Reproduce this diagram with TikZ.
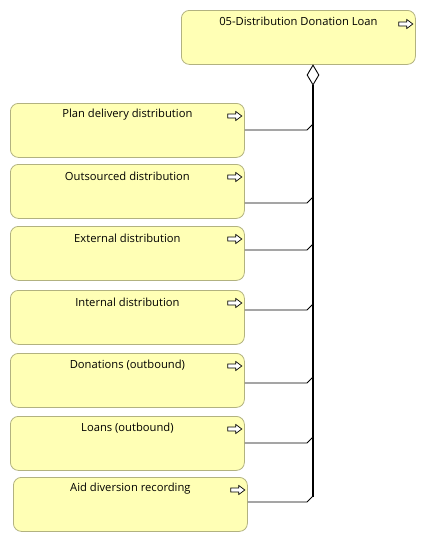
\documentclass[tikz,border=0pt]{standalone}
\usepackage{fontspec}
\setmainfont{Open Sans}
\usetikzlibrary{shapes.geometric}
\definecolor{boxfill}{RGB}{255,255,181}
\definecolor{boxline}{RGB}{178,178,128}
\tikzset{
  funcbox/.style={draw=boxline, fill=boxfill, rounded corners=8pt, line width=0.8pt,
    minimum width=234pt, minimum height=54pt, anchor=north west, inner sep=0pt},
  lbl/.style={font=\fontsize{11.2}{13}\selectfont, inner sep=0pt, anchor=center},
  conn/.style={draw=black, line width=0.9pt},
  bus/.style={draw=black, line width=2pt},
  icon/.style={draw=black, fill=white, line width=0.7pt, line join=miter},
}
\newcommand{\procicon}[1]{%
  \draw[icon] ($(#1)+(-14,-2)$) -- ($(#1)+(-6,-2)$) -- ($(#1)+(-6,-4.5)$) -- ($(#1)+(0,0)$)
    -- ($(#1)+(-6,4.5)$) -- ($(#1)+(-6,2)$) -- ($(#1)+(-14,2)$) -- cycle;}
\usetikzlibrary{calc}
\begin{document}
\begin{tikzpicture}[x=1pt,y=-1pt]
\useasboundingbox (0,0) rectangle (426,542);
% top box
\node[funcbox] (top) at (181,10) {};
\node[lbl] (toplbl) at ($(top.north)+(0,11)$) {05-Distribution Donation Loan};
\coordinate (ti) at ($(top.north east)+(-3,14)$);
\procicon{ti}
% diamond
\node[diamond, draw=black, fill=white, line width=0.9pt, minimum width=12pt, minimum height=20pt, inner sep=0pt] (dia) at (313,75) {};
% left boxes
\node[funcbox] (b1) at (10,103) {};
\node[funcbox] (b2) at (10,164) {};
\node[funcbox] (b3) at (10,226) {};
\node[funcbox] (b4) at (10,290) {};
\node[funcbox] (b5) at (10,353) {};
\node[funcbox] (b6) at (10,416) {};
\node[funcbox] (b7) at (13,477) {};
\foreach \b/\t in {b1/Plan delivery distribution, b2/Outsourced distribution, b3/External distribution, b4/Internal distribution, b5/Donations (outbound), b6/Loans (outbound), b7/Aid diversion recording}{
  \node[lbl] (\b lbl) at ($(\b.north)+(0,12)$) {\t};
  \coordinate (\b i) at ($(\b.north east)+(-3,13)$);
  \procicon{\b i}
}
% bus
\coordinate (busend) at (313,497);
\draw[bus] (dia.south) -- (busend);
\foreach \b/\y in {b1/130, b2/203, b3/250, b4/310, b5/383, b6/443, b7/502}{
  \coordinate (\b e) at (\b.east |- 0,\y);
  \coordinate (\b k) at (307,\y);
  \coordinate (\b j) at (313,\y-6);
  \draw[conn] (\b e) -- (\b k) -- (\b j);
}
\end{tikzpicture}
\end{document}
